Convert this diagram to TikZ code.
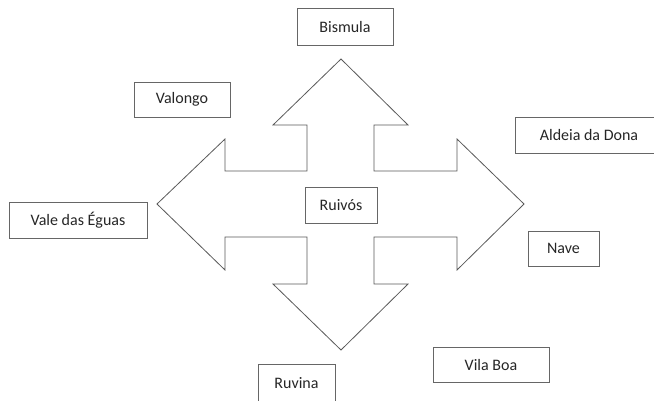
\documentclass[tikz,border=0pt]{standalone}
\usepackage{fontspec}
\setmainfont{Carlito}
\begin{document}
\begin{tikzpicture}[x=1pt,y=-1pt,
  lbl/.style={draw=black!60, line width=0.8pt, fill=white, inner sep=0pt,
    font=\fontsize{16}{18}\selectfont, text=black!85, minimum height=36pt},
  arrowshape/.style={draw=black!65, line width=0.8pt, fill=white, line join=miter}]
\useasboundingbox (0,0) rectangle (654,400);
\clip (0,0) rectangle (654,400);
\draw[arrowshape] (341,59) -- (408,125) -- (374,125) -- (374,171) -- (457,171) -- (457,139)
  -- (524,204) -- (457,270) -- (457,237) -- (374,237) -- (374,284) -- (408,284)
  -- (341,350) -- (273,284) -- (307,284) -- (307,237) -- (225,237) -- (225,270)
  -- (157,204) -- (225,139) -- (225,171) -- (307,171) -- (307,125) -- (273,125) -- cycle;
\node[lbl, minimum width=96pt, minimum height=37pt] (bismula) at (345,26.5) {Bismula};
\node[lbl, minimum width=96pt, minimum height=35pt] (valongo) at (182,99.5) {Valongo};
\node[lbl, minimum width=148pt] (aldeia) at (589,135) {Aldeia da Dona};
\node[lbl, minimum width=138pt] (vale) at (78,220) {Vale das Éguas};
\node[lbl, minimum width=71pt, minimum height=35pt] (nave) at (563.5,248.5) {Nave};
\node[lbl, minimum width=72pt] (ruivos) at (341,205) {Ruivós};
\node[lbl, minimum width=116pt, minimum height=35pt] (vilaboa) at (491,364.5) {Vila Boa};
\node[lbl, minimum width=77pt, minimum height=38pt] (ruvina) at (296.5,383) {Ruvina};
\end{tikzpicture}
\end{document}
